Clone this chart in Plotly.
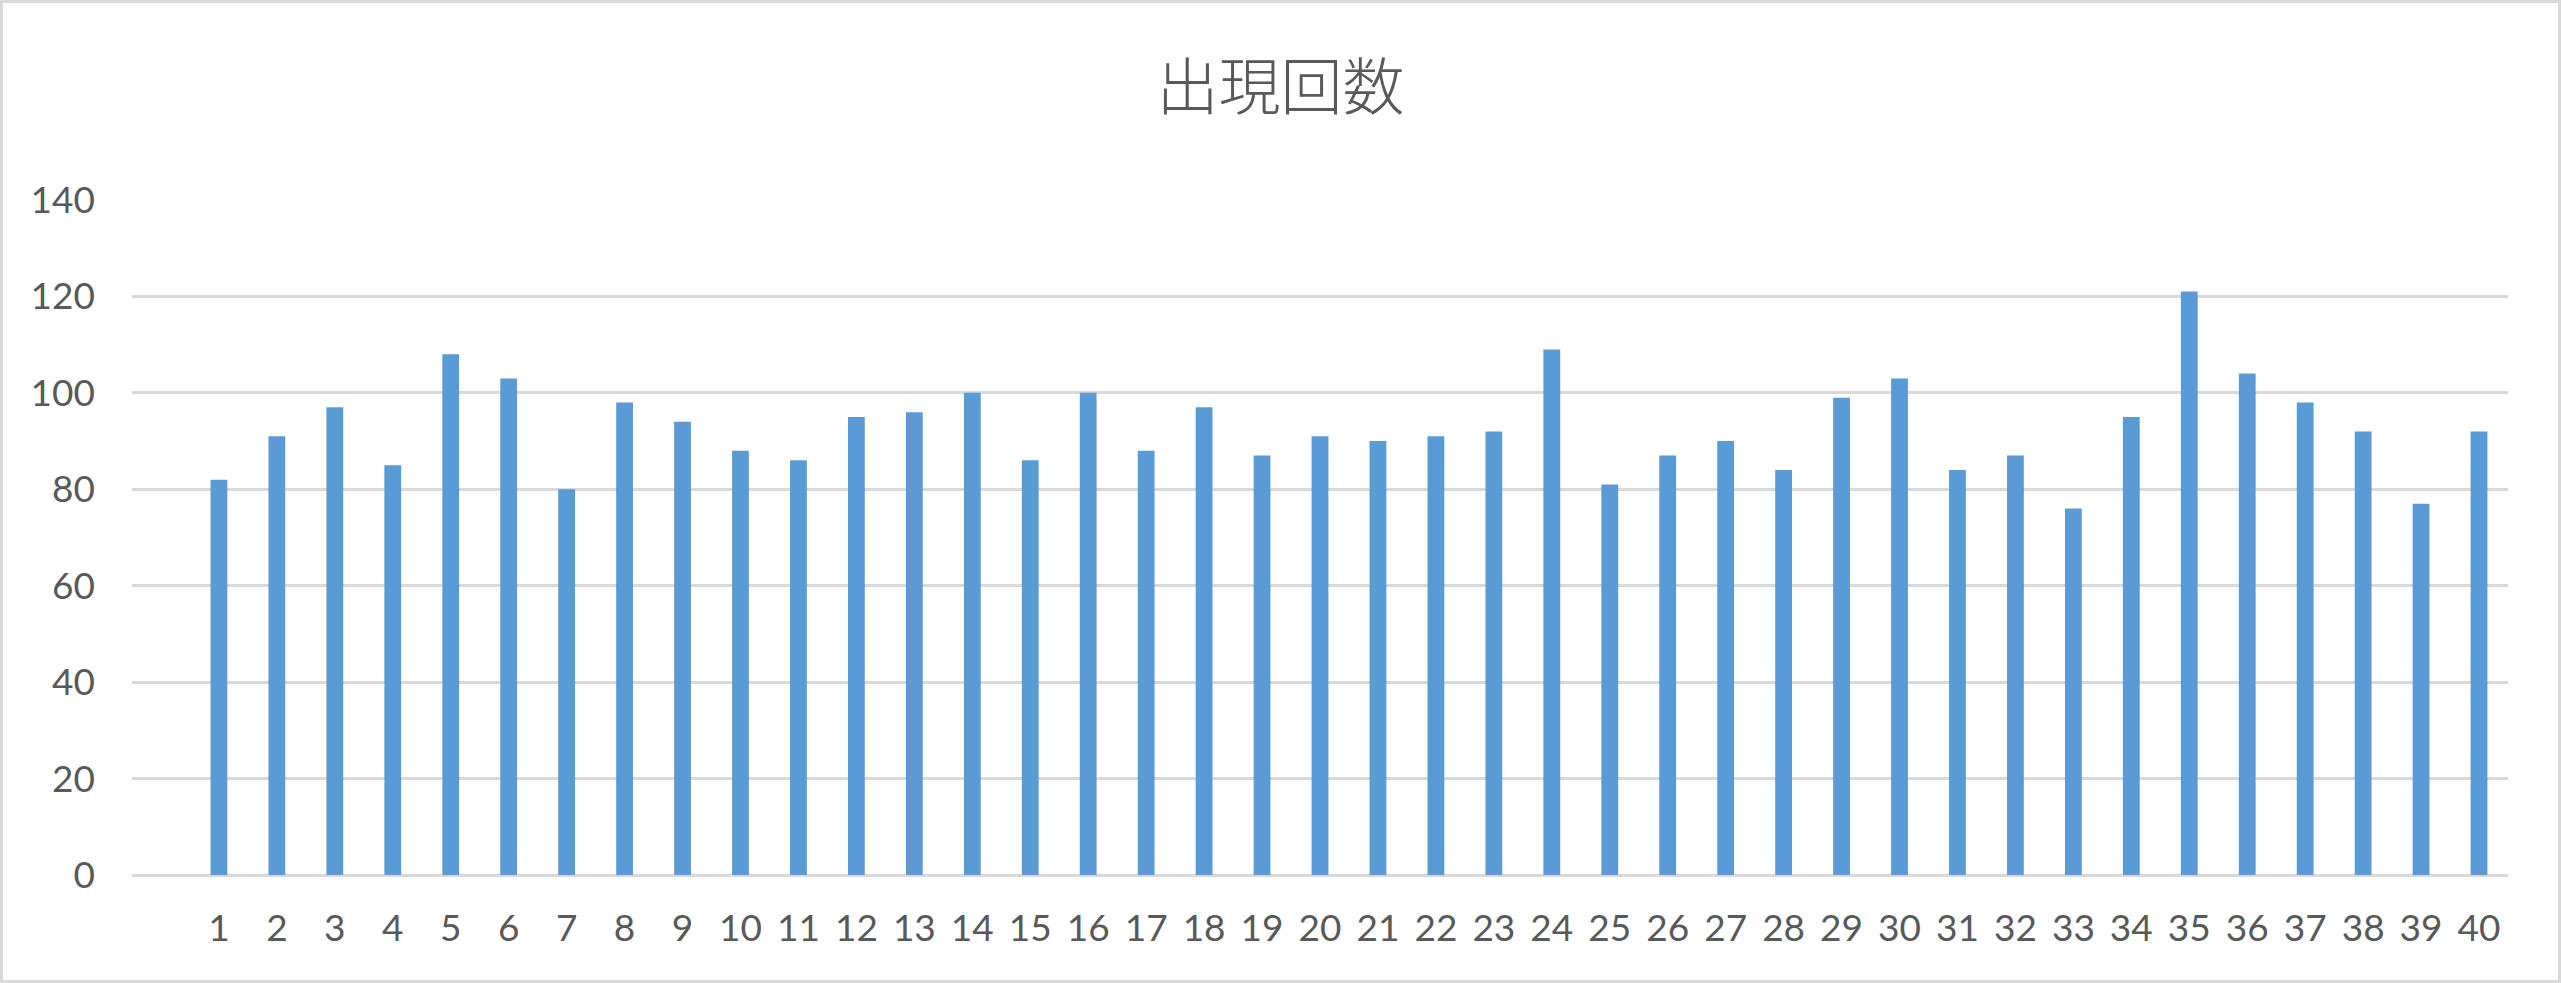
import plotly.graph_objects as go

categories = list(range(1, 41))
counts = [82, 91, 97, 85, 108, 103, 80, 98, 94, 88,
          86, 95, 96, 100, 86, 100, 88, 97, 87, 91,
          90, 91, 92, 109, 81, 87, 90, 84, 99, 103,
          84, 87, 76, 95, 121, 104, 98, 92, 77, 92]
y_ticks = [0, 20, 40, 60, 80, 100, 120, 140]
title_text = "出現回数"

W, H = 2561, 983
ML, MR, MT, MB = 132, 53, 200, 108
PW, PH = W - ML - MR, H - MT - MB

grid = "#D9D9D9"
txt = "#595959"
tick_font = dict(family="Lato, Open Sans, Liberation Sans, sans-serif", size=37, color=txt)

fig = go.Figure()
fig.add_trace(go.Bar(
    x=categories, y=counts, width=0.29,
    marker=dict(color="#5B9BD5", line=dict(width=0)),
    hoverinfo="x+y",
))

def px_x(p):
    return (p - ML) / PW

def px_y(p):
    return (H - MB - p) / PH

fig.update_layout(
    width=W, height=H,
    margin=dict(l=ML, r=MR, t=MT, b=MB, pad=0),
    paper_bgcolor="white", plot_bgcolor="white",
    showlegend=False,
    title=dict(text=title_text, x=0.5, xanchor="center", y=1 - 88 / H, yanchor="middle",
               font=dict(family="Noto Sans CJK JP, sans-serif", size=62, color=txt, weight=300)),
    xaxis=dict(range=[-0.5, 40.5], tickvals=categories, ticktext=[str(c) for c in categories],
               showgrid=False, zeroline=False, showline=False, ticks="",
               tickfont=tick_font, ticklabelstandoff=28, fixedrange=True),
    yaxis=dict(range=[0, 140], tickvals=y_ticks, showgrid=True, gridcolor=grid, gridwidth=2.5,
               zeroline=True, zerolinecolor=grid, zerolinewidth=2.5, showline=False, ticks="",
               tickfont=tick_font, ticklabelstandoff=36, fixedrange=True),
    shapes=[dict(type="rect", xref="paper", yref="paper",
                 x0=px_x(1.5), x1=px_x(W - 1.5), y0=px_y(H - 1.5), y1=px_y(1.5),
                 line=dict(color=grid, width=3), fillcolor="rgba(0,0,0,0)", layer="below")],
)

fig.write_html("out.html", config={"displayModeBar": False},
               post_script="document.body.style.margin='0';document.body.style.overflow='hidden';")
